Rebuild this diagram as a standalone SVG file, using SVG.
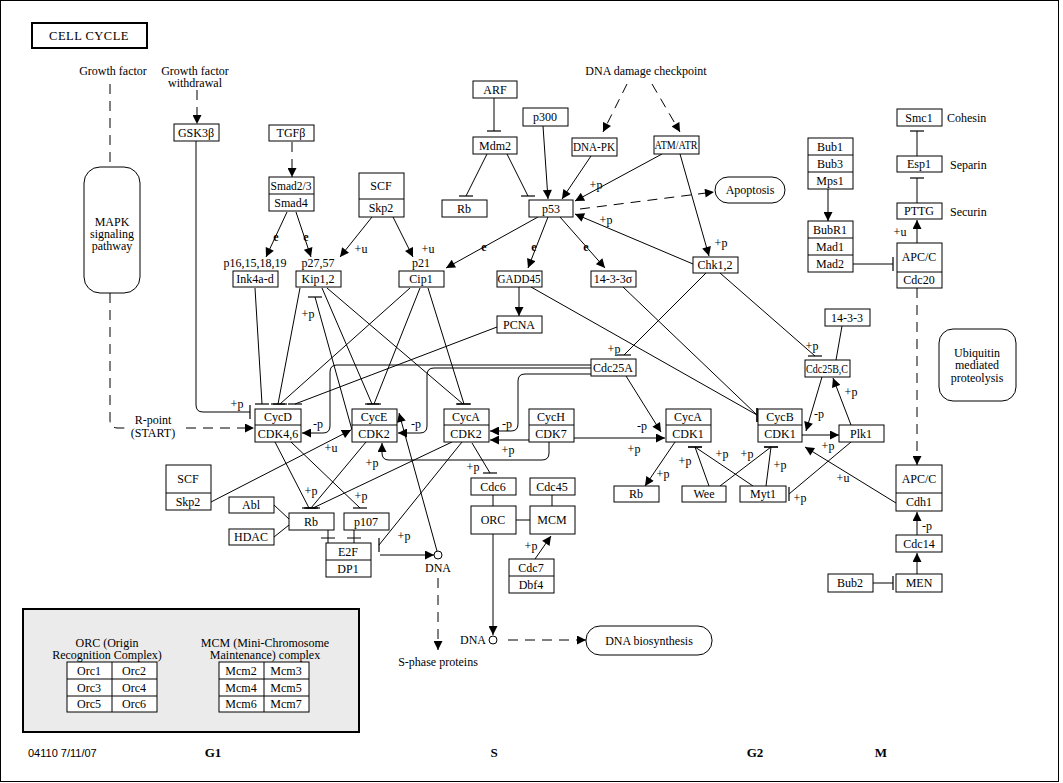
<svg xmlns="http://www.w3.org/2000/svg" width="1063" height="783" viewBox="0 0 1063 783">
<style>
text{font-family:"Liberation Serif",serif;font-size:12px;text-anchor:middle;fill:#000}
.n rect,.n path.b{fill:#fff;stroke:#000;stroke-width:1}
.n line{stroke:#000;stroke-width:1}
.c path{fill:none;stroke:#000;stroke-width:1}
.c path.d{stroke-dasharray:10,7}
.l{font-size:11.5px}
.e{font-weight:bold;font-size:12px}
.ph{font-weight:bold;font-size:13px}
.s{font-family:"Liberation Sans",sans-serif;font-size:11px;text-anchor:start}
.lt{text-anchor:start}
</style>
<defs>
<marker id="a" viewBox="0 0 10 10" refX="10" refY="5" markerWidth="10" markerHeight="9" orient="auto" markerUnits="userSpaceOnUse"><path d="M0,0L10,5L0,10z" fill="#000"/></marker>
<marker id="th" viewBox="-7 -1 14 2" refX="0" refY="0" markerWidth="14" markerHeight="2" orient="0" markerUnits="userSpaceOnUse"><path d="M-7,0H7" stroke="#000" stroke-width="1.2"/></marker>
<marker id="tv" viewBox="-1 -7 2 14" refX="0" refY="0" markerWidth="2" markerHeight="14" orient="0" markerUnits="userSpaceOnUse"><path d="M0,-7V7" stroke="#000" stroke-width="1.2"/></marker>
</defs>
<rect x="0.5" y="0.5" width="1058" height="781" fill="#fff" stroke="#000"/>
<g id="title"><rect x="32" y="23" width="115" height="25" fill="#fff" stroke="#000" stroke-width="2"/><text x="89" y="40" style="font-size:12.5px;letter-spacing:0.5px">CELL CYCLE</text></g>

<g id="connectors" class="c">
<path class="d" d="M110,84V167"/>
<path class="d" d="M110,293V420Q110,428 118,428H128"/>
<path class="d" d="M186,428H254" marker-end="url(#a)"/>
<path class="d" d="M197,90V124" marker-end="url(#a)"/>
<path class="d" d="M292,142V177" marker-end="url(#a)"/>
<path class="d" d="M627,84L603,132" marker-end="url(#a)"/>
<path class="d" d="M652,84L680,132" marker-end="url(#a)"/>
<path class="d" d="M580,209L714,192" marker-end="url(#a)"/>
<path class="d" d="M917,288V465" marker-end="url(#a)"/>
<path class="d" d="M438,578V650" marker-end="url(#a)"/>
<path class="d" d="M508,640H586" marker-end="url(#a)"/>
<path d="M287,212L266,257" marker-end="url(#a)"/>
<path d="M296,212L311,257" marker-end="url(#a)"/>
<path d="M372,217L340,257" marker-end="url(#a)"/>
<path d="M393,217L413,257" marker-end="url(#a)"/>
<path d="M538,217L446,268" marker-end="url(#a)"/>
<path d="M548,217L528,268" marker-end="url(#a)"/>
<path d="M560,217L605,268" marker-end="url(#a)"/>
<path d="M543,126L548,199" marker-end="url(#a)"/>
<path d="M591,156L562,199" marker-end="url(#a)"/>
<path d="M662,154L575,201" marker-end="url(#a)"/>
<path d="M680,154L709,256" marker-end="url(#a)"/>
<path d="M693,264L575,214" marker-end="url(#a)"/>
<path d="M519,287V316" marker-end="url(#a)"/>
<path d="M828,189V221" marker-end="url(#a)"/>
<path d="M917,243V220" marker-end="url(#a)"/>
<path d="M917,535V512" marker-end="url(#a)"/>
<path d="M917,574V553" marker-end="url(#a)"/>
<path d="M896,503L805,447" marker-end="url(#a)"/>
<path d="M802,435H839" marker-end="url(#a)"/>
<path d="M851,425L833,378" marker-end="url(#a)"/>
<path d="M822,377L806,431" marker-end="url(#a)"/>
<path d="M626,376L661,432" marker-end="url(#a)"/>
<path d="M574,438H665" marker-end="url(#a)"/>
<path d="M675,442L645,486" marker-end="url(#a)"/>
<path d="M591,365H337Q330,365 330,372V426Q330,433 323,433H302" marker-end="url(#a)"/>
<path d="M591,368H434Q427,368 427,375V426Q427,433 420,433H398" marker-end="url(#a)"/>
<path d="M591,374H525Q518,374 518,381V424Q518,431 511,431H490" marker-end="url(#a)"/>
<path d="M529,440H490" marker-end="url(#a)"/>
<path d="M549,442V453Q549,460 542,460H389Q382,460 382,453V443" marker-end="url(#a)"/>
<path d="M211,502L351,430" marker-end="url(#a)"/>
<path d="M380,555H434" marker-end="url(#a)"/>
<path d="M437,551L399,413" marker-end="url(#a)"/>
<path d="M535,559L551,536" marker-end="url(#a)"/>
<path d="M493,534V635" marker-end="url(#a)"/>
<path d="M494,98V131" marker-end="url(#th)"/>
<path d="M487,154L466,196" marker-end="url(#th)"/>
<path d="M507,154L528,196" marker-end="url(#th)"/>
<path d="M917,203V178" marker-end="url(#th)"/>
<path d="M917,156V131" marker-end="url(#th)"/>
<path d="M706,273L624,355" marker-end="url(#th)"/>
<path d="M720,273L815,356" marker-end="url(#th)"/>
<path d="M709,486L695,447" marker-end="url(#th)"/>
<path d="M753,486L695,447" marker-end="url(#th)"/>
<path d="M720,486L771,447" marker-end="url(#th)"/>
<path d="M766,486L771,447" marker-end="url(#th)"/>
<path d="M255,288L262,404" marker-end="url(#th)"/>
<path d="M300,288L278,404" marker-end="url(#th)"/>
<path d="M410,288L280,404" marker-end="url(#th)"/>
<path d="M497,327L295,404" marker-end="url(#th)"/>
<path d="M322,288L372,404" marker-end="url(#th)"/>
<path d="M420,288L374,404" marker-end="url(#th)"/>
<path d="M327,288L463,404" marker-end="url(#th)"/>
<path d="M428,288L464,404" marker-end="url(#th)"/>
<path d="M352,430L315,297" marker-end="url(#th)"/>
<path d="M275,442L309,508" marker-end="url(#th)"/>
<path d="M291,442L360,508" marker-end="url(#th)"/>
<path d="M366,442L311,508" marker-end="url(#th)"/>
<path d="M452,442L313,508" marker-end="url(#th)"/>
<path d="M472,443L490,473" marker-end="url(#th)"/>
<path d="M328,530V543M321,538H335"/>
<path d="M354,530V543M347,538H361"/>
<path d="M196,141V405Q196,412 203,412H250" marker-end="url(#tv)"/>
<path d="M853,264H893" marker-end="url(#tv)"/>
<path d="M873,583H893" marker-end="url(#tv)"/>
<path d="M531,287L757,415" marker-end="url(#tv)"/>
<path d="M623,287L757,415" marker-end="url(#tv)"/>
<path d="M851,442L789,494" marker-end="url(#tv)"/>
<path d="M462,442L379,545" marker-end="url(#tv)"/>
<path d="M842,326L836,360"/>
<path d="M274,505L289,519"/>
<path d="M274,537L289,525"/>
<path d="M493,495V506M552,495V506M516,520H530"/>
<circle cx="438" cy="555" r="4" fill="#fff" stroke="#000"/>
<circle cx="493" cy="640" r="4" fill="#fff" stroke="#000"/>
</g>

<g id="edge-labels" class="l">
<text x="237" y="408">+p</text>
<text x="318" y="428">-p</text>
<text x="308" y="318">+p</text>
<text x="416" y="428">-p</text>
<text x="507" y="428">-p</text>
<text x="508" y="454">+p</text>
<text x="372" y="467">+p</text>
<text x="473" y="471">+p</text>
<text x="331" y="452">+u</text>
<text x="311" y="495">+p</text>
<text x="361" y="500">+p</text>
<text x="404" y="540">+p</text>
<text x="531" y="550">+p</text>
<text x="596" y="189">+p</text>
<text x="606" y="224">+p</text>
<text x="721" y="247">+p</text>
<text x="614" y="353">+p</text>
<text x="812" y="350">+p</text>
<text x="642" y="430">-p</text>
<text x="819" y="418">-p</text>
<text x="634" y="453">+p</text>
<text x="828" y="450">+p</text>
<text x="851" y="396">+p</text>
<text x="685" y="465">+p</text>
<text x="722" y="458">+p</text>
<text x="747" y="458">+p</text>
<text x="780" y="469">+p</text>
<text x="663" y="478">+p</text>
<text x="800" y="502">+p</text>
<text x="843" y="482">+u</text>
<text x="927" y="530">-p</text>
<text x="900" y="236">+u</text>
<text x="361" y="253">+u</text>
<text x="428" y="253">+u</text>
<text class="e" x="276" y="241">e</text>
<text class="e" x="306" y="241">e</text>
<text class="e" x="484" y="251">e</text>
<text class="e" x="534" y="251">e</text>
<text class="e" x="586" y="251">e</text>
</g>

<g id="free-text">
<text x="113" y="75">Growth factor</text>
<text x="195" y="75">Growth factor</text>
<text x="195" y="87">withdrawal</text>
<text x="646" y="75">DNA damage checkpoint</text>
<text x="153" y="424">R-point</text>
<text x="153" y="437">(START)</text>
<text x="255" y="267">p16,15,18,19</text>
<text x="318" y="267">p27,57</text>
<text x="421" y="267">p21</text>
<text class="lt" x="947" y="122">Cohesin</text>
<text class="lt" x="950" y="169">Separin</text>
<text class="lt" x="950" y="216">Securin</text>
<text x="438" y="572">DNA</text>
<text x="473" y="644">DNA</text>
<text x="438" y="666">S-phase proteins</text>
<text class="ph" x="213" y="757">G1</text>
<text class="ph" x="494" y="757">S</text>
<text class="ph" x="755" y="757">G2</text>
<text class="ph" x="881" y="757">M</text>
<text class="s" x="28" y="757">04110 7/11/07</text>
</g>

<g id="MAPK" class="n"><rect x="84" y="167" width="56" height="126" rx="16"/><text x="112" y="226">MAPK</text><text x="112" y="238">signaling</text><text x="112" y="250">pathway</text></g>
<g id="GSK3b" class="n"><rect x="174" y="124" width="45" height="17"/><text x="196" y="137">GSK3β</text></g>
<g id="TGFb" class="n"><rect x="269" y="125" width="45" height="16"/><text x="291" y="137">TGFβ</text></g>
<g id="Smad" class="n"><rect x="269" y="177" width="45" height="34"/><line x1="269" y1="194" x2="314" y2="194"/><text x="291" y="190" textLength="41" lengthAdjust="spacingAndGlyphs">Smad2/3</text><text x="291" y="207">Smad4</text></g>
<g id="SCF-Skp2-top" class="n"><rect x="359" y="173" width="45" height="44"/><line x1="359" y1="199" x2="404" y2="199"/><text x="381" y="190">SCF</text><text x="381" y="212">Skp2</text></g>
<g id="Ink4a-d" class="n"><rect x="233" y="271" width="45" height="16"/><text x="255" y="283">Ink4a-d</text></g>
<g id="Kip12" class="n"><rect x="296" y="271" width="45" height="16"/><text x="318" y="283">Kip1,2</text></g>
<g id="Cip1" class="n"><rect x="399" y="271" width="45" height="16"/><text x="421" y="283">Cip1</text></g>
<g id="GADD45" class="n"><rect x="497" y="271" width="45" height="16"/><text x="519" y="283" textLength="43" lengthAdjust="spacingAndGlyphs">GADD45</text></g>
<g id="s14-3-3sigma" class="n"><rect x="591" y="271" width="45" height="16"/><text x="613" y="283">14-3-3σ</text></g>
<g id="PCNA" class="n"><rect x="497" y="316" width="45" height="17"/><text x="519" y="329">PCNA</text></g>
<g id="ARF" class="n"><rect x="473" y="81" width="44" height="17"/><text x="495" y="94">ARF</text></g>
<g id="Mdm2" class="n"><rect x="473" y="137" width="44" height="17"/><text x="495" y="150">Mdm2</text></g>
<g id="Rb-top" class="n"><rect x="442" y="200" width="45" height="17"/><text x="464" y="213">Rb</text></g>
<g id="p53" class="n"><rect x="529" y="200" width="44" height="17"/><text x="551" y="213">p53</text></g>
<g id="p300" class="n"><rect x="523" y="108" width="45" height="18"/><text x="545" y="121">p300</text></g>
<g id="DNA-PK" class="n"><rect x="572" y="138" width="45" height="18"/><text x="594" y="151" textLength="42" lengthAdjust="spacingAndGlyphs">DNA-PK</text></g>
<g id="ATM-ATR" class="n"><rect x="654" y="136" width="45" height="18"/><text x="676" y="149" textLength="43" lengthAdjust="spacingAndGlyphs">ATM/ATR</text></g>
<g id="Apoptosis" class="n"><rect x="715" y="177" width="70" height="26" rx="13"/><text x="750" y="194">Apoptosis</text></g>
<g id="Chk12" class="n"><rect x="693" y="257" width="45" height="16"/><text x="715" y="269">Chk1,2</text></g>
<g id="Bub1-Bub3-Mps1" class="n"><rect x="808" y="138" width="45" height="51"/><line x1="808" y1="155" x2="853" y2="155"/><line x1="808" y1="172" x2="853" y2="172"/><text x="830" y="151">Bub1</text><text x="830" y="168">Bub3</text><text x="830" y="185">Mps1</text></g>
<g id="BubR1-Mad1-Mad2" class="n"><rect x="808" y="221" width="45" height="51"/><line x1="808" y1="238" x2="853" y2="238"/><line x1="808" y1="255" x2="853" y2="255"/><text x="830" y="234">BubR1</text><text x="830" y="251">Mad1</text><text x="830" y="268">Mad2</text></g>
<g id="Smc1" class="n"><rect x="897" y="109" width="45" height="17"/><text x="919" y="122">Smc1</text></g>
<g id="Esp1" class="n"><rect x="897" y="156" width="45" height="16"/><text x="919" y="168">Esp1</text></g>
<g id="PTTG" class="n"><rect x="897" y="203" width="45" height="16"/><text x="919" y="215">PTTG</text></g>
<g id="APCC-Cdc20" class="n"><rect x="897" y="243" width="45" height="45"/><line x1="897" y1="272" x2="942" y2="272"/><text x="919" y="261">APC/C</text><text x="919" y="284">Cdc20</text></g>
<g id="s14-3-3" class="n"><rect x="825" y="309" width="45" height="17"/><text x="847" y="322">14-3-3</text></g>
<g id="Cdc25BC" class="n"><rect x="805" y="360" width="45" height="17"/><text x="827" y="373" textLength="42" lengthAdjust="spacingAndGlyphs">Cdc25B,C</text></g>
<g id="Cdc25A" class="n"><rect x="591" y="359" width="45" height="17"/><text x="613" y="372">Cdc25A</text></g>
<g id="Ubiquitin" class="n"><rect x="939" y="329" width="77" height="72" rx="14"/><text x="977" y="357">Ubiquitin</text><text x="977" y="369">mediated</text><text x="977" y="382">proteolysis</text></g>
<g id="CycD-CDK46" class="n"><rect x="255" y="409" width="46" height="33"/><line x1="255" y1="425" x2="301" y2="425"/><text x="278" y="421">CycD</text><text x="278" y="438">CDK4,6</text></g>
<g id="CycE-CDK2" class="n"><rect x="352" y="409" width="45" height="33"/><line x1="352" y1="425" x2="397" y2="425"/><text x="374" y="421">CycE</text><text x="374" y="438">CDK2</text></g>
<g id="CycA-CDK2" class="n"><rect x="444" y="409" width="45" height="33"/><line x1="444" y1="425" x2="489" y2="425"/><text x="466" y="421">CycA</text><text x="466" y="438">CDK2</text></g>
<g id="CycH-CDK7" class="n"><rect x="529" y="409" width="45" height="33"/><line x1="529" y1="425" x2="574" y2="425"/><text x="551" y="421">CycH</text><text x="551" y="438">CDK7</text></g>
<g id="CycA-CDK1" class="n"><rect x="666" y="409" width="45" height="33"/><line x1="666" y1="425" x2="711" y2="425"/><text x="688" y="421">CycA</text><text x="688" y="438">CDK1</text></g>
<g id="CycB-CDK1" class="n"><rect x="758" y="409" width="44" height="33"/><line x1="758" y1="425" x2="802" y2="425"/><text x="780" y="421">CycB</text><text x="780" y="438">CDK1</text></g>
<g id="Plk1" class="n"><rect x="839" y="425" width="45" height="17"/><text x="861" y="438">Plk1</text></g>
<g id="APCC-Cdh1" class="n"><rect x="896" y="465" width="46" height="46"/><line x1="896" y1="493" x2="942" y2="493"/><text x="919" y="483">APC/C</text><text x="919" y="506">Cdh1</text></g>
<g id="Cdc14" class="n"><rect x="896" y="535" width="46" height="17"/><text x="919" y="548">Cdc14</text></g>
<g id="MEN" class="n"><rect x="896" y="574" width="46" height="18"/><text x="919" y="587">MEN</text></g>
<g id="Bub2" class="n"><rect x="828" y="574" width="45" height="18"/><text x="850" y="587">Bub2</text></g>
<g id="Rb-right" class="n"><rect x="614" y="486" width="45" height="16"/><text x="636" y="498">Rb</text></g>
<g id="Wee" class="n"><rect x="682" y="486" width="44" height="16"/><text x="704" y="498">Wee</text></g>
<g id="Myt1" class="n"><rect x="740" y="486" width="46" height="16"/><text x="763" y="498">Myt1</text></g>
<g id="SCF-Skp2-left" class="n"><rect x="166" y="465" width="45" height="45"/><line x1="166" y1="493" x2="211" y2="493"/><text x="188" y="483">SCF</text><text x="188" y="506">Skp2</text></g>
<g id="Abl" class="n"><rect x="229" y="497" width="45" height="16"/><text x="251" y="509">Abl</text></g>
<g id="HDAC" class="n"><rect x="229" y="529" width="45" height="16"/><text x="251" y="541">HDAC</text></g>
<g id="Rb" class="n"><rect x="289" y="513" width="45" height="17"/><text x="311" y="526">Rb</text></g>
<g id="p107" class="n"><rect x="344" y="513" width="45" height="17"/><text x="366" y="526">p107</text></g>
<g id="E2F-DP1" class="n"><rect x="326" y="543" width="45" height="34"/><line x1="326" y1="560" x2="371" y2="560"/><text x="348" y="556">E2F</text><text x="348" y="573">DP1</text></g>
<g id="Cdc6" class="n"><rect x="471" y="478" width="45" height="17"/><text x="493" y="491">Cdc6</text></g>
<g id="Cdc45" class="n"><rect x="530" y="478" width="45" height="17"/><text x="552" y="491">Cdc45</text></g>
<g id="ORC" class="n"><rect x="471" y="506" width="45" height="28"/><text x="493" y="524">ORC</text></g>
<g id="MCM" class="n"><rect x="530" y="506" width="45" height="28"/><text x="552" y="524">MCM</text></g>
<g id="Cdc7-Dbf4" class="n"><rect x="509" y="559" width="45" height="34"/><line x1="509" y1="576" x2="554" y2="576"/><text x="531" y="572">Cdc7</text><text x="531" y="589">Dbf4</text></g>
<g id="DNA-biosynthesis" class="n"><rect x="586" y="626" width="126" height="29" rx="14"/><text x="649" y="645">DNA biosynthesis</text></g>

<g id="legend">
<rect x="23" y="609" width="336" height="123" fill="#ebebeb" stroke="#000" stroke-width="2"/>
<text x="107" y="647">ORC (Origin</text>
<text x="107" y="659">Recognition Complex)</text>
<text x="265" y="647">MCM (Mini-Chromosome</text>
<text x="265" y="659">Maintenance) complex</text>
<g class="n">
<rect x="67" y="662" width="90" height="50"/><line x1="67" y1="679" x2="157" y2="679"/><line x1="67" y1="696" x2="157" y2="696"/><line x1="112" y1="662" x2="112" y2="712"/>
<text x="89" y="675">Orc1</text><text x="134" y="675">Orc2</text>
<text x="89" y="692">Orc3</text><text x="134" y="692">Orc4</text>
<text x="89" y="708">Orc5</text><text x="134" y="708">Orc6</text>
<rect x="219" y="662" width="90" height="50"/><line x1="219" y1="679" x2="309" y2="679"/><line x1="219" y1="696" x2="309" y2="696"/><line x1="264" y1="662" x2="264" y2="712"/>
<text x="241" y="675">Mcm2</text><text x="286" y="675">Mcm3</text>
<text x="241" y="692">Mcm4</text><text x="286" y="692">Mcm5</text>
<text x="241" y="708">Mcm6</text><text x="286" y="708">Mcm7</text>
</g>
</g>
</svg>
